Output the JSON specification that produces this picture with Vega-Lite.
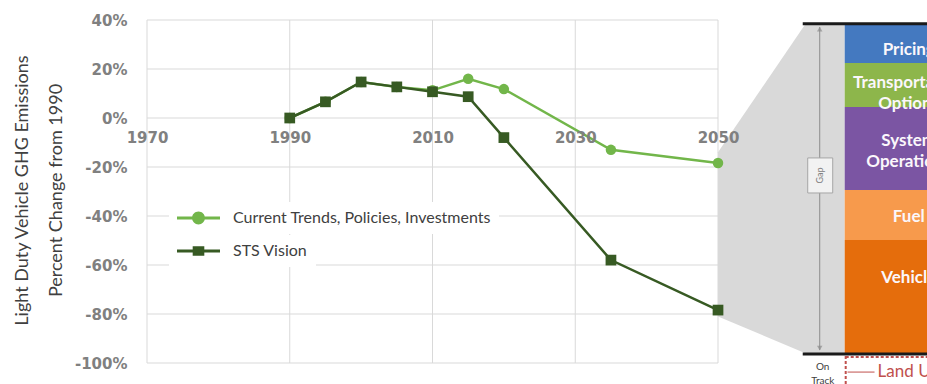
{
  "$schema": "https://vega.github.io/schema/vega-lite/v6.json",
  "width": 780,
  "height": 343,
  "autosize": {"type": "none"},
  "padding": {"left": 147, "top": 20, "right": 0, "bottom": 21},
  "background": "white",
  "config": {"view": {"stroke": null}, "font": "Lato"},
  "resolve": {"scale": {"color": "independent"}, "legend": {"color": "independent"}},
  "datasets": {
    "series": [
      {"series": "Current Trends, Policies, Investments", "year": 1990, "value": 0},
      {"series": "Current Trends, Policies, Investments", "year": 1995, "value": 6.6},
      {"series": "Current Trends, Policies, Investments", "year": 2000, "value": 14.7},
      {"series": "Current Trends, Policies, Investments", "year": 2005, "value": 12.7},
      {"series": "Current Trends, Policies, Investments", "year": 2010, "value": 11.3},
      {"series": "Current Trends, Policies, Investments", "year": 2015, "value": 16},
      {"series": "Current Trends, Policies, Investments", "year": 2020, "value": 11.8},
      {"series": "Current Trends, Policies, Investments", "year": 2035, "value": -13},
      {"series": "Current Trends, Policies, Investments", "year": 2050, "value": -18.4},
      {"series": "STS Vision", "year": 1990, "value": 0},
      {"series": "STS Vision", "year": 1995, "value": 6.6},
      {"series": "STS Vision", "year": 2000, "value": 14.7},
      {"series": "STS Vision", "year": 2005, "value": 12.7},
      {"series": "STS Vision", "year": 2010, "value": 10.7},
      {"series": "STS Vision", "year": 2015, "value": 8.7},
      {"series": "STS Vision", "year": 2020, "value": -8},
      {"series": "STS Vision", "year": 2035, "value": -58},
      {"series": "STS Vision", "year": 2050, "value": -78.4}
    ],
    "grid": [{"v": 40}, {"v": 20}, {"v": 0}, {"v": -20}, {"v": -40}, {"v": -60}, {"v": -80}, {"v": -100}],
    "vgrid": [{"yr": 1970}, {"yr": 1990}, {"yr": 2010}, {"yr": 2030}, {"yr": 2050}],
    "funnel": [
      {"x": 2050, "top": -14, "bottom": -81},
      {"x": 2062.15, "top": 38, "bottom": -95.9},
      {"x": 2067.75, "top": 38, "bottom": -95.9}
    ],
    "segments": [
      {"part": "Pricing", "x": 2067.75, "x2": 2079.28, "y": 37.96, "y2": 22.4},
      {"part": "Transportation Options", "x": 2067.75, "x2": 2079.28, "y": 22.4, "y2": 4.5},
      {"part": "System Operations", "x": 2067.75, "x2": 2079.28, "y": 4.5, "y2": -29.4},
      {"part": "Fuel", "x": 2067.75, "x2": 2079.28, "y": -29.4, "y2": -49.8},
      {"part": "Vehicle", "x": 2067.75, "x2": 2079.28, "y": -49.8, "y2": -95.9}
    ],
    "seglabels": [
      {"label": "Pricing", "x": 2076.72, "y": 27.8},
      {"label": "Transportation\nOptions", "x": 2076.72, "y": 14.1},
      {"label": "System\nOperations", "x": 2076.72, "y": -9.4},
      {"label": "Fuel", "x": 2076.72, "y": -40.4},
      {"label": "Vehicle", "x": 2076.72, "y": -65.3}
    ],
    "blacklines": [
      {"x": 2061.87, "x2": 2079.28, "y": 38.5, "y2": 38.5},
      {"x": 2061.87, "x2": 2079.28, "y": -96.3, "y2": -96.3}
    ],
    "gapline": [{"x": 2064.25, "x2": 2064.25, "y": 37.1, "y2": -94.7}],
    "arrows": [
      {"x": 2064.25, "y": 36.3, "dir": "up"},
      {"x": 2064.25, "y": -93.9, "dir": "down"}
    ],
    "gapbox": [{"x": 2062.57, "x2": 2066.07, "y": -16.3, "y2": -30.6, "label": "Gap", "xm": 2064.32, "ym": -23.5}],
    "ontrack": [
      {"label": "On", "x": 2064.67, "y": -101.6},
      {"label": "Track", "x": 2064.67, "y": -107.3}
    ],
    "reddash": [
      {"x": 2067.89, "x2": 2067.89, "y": -97.1, "y2": -109},
      {"x": 2067.89, "x2": 2079.28, "y": -97.6, "y2": -97.6}
    ],
    "redline": [{"x": 2068.15, "x2": 2071.93, "y": -103.7, "y2": -103.7}],
    "redtext": [{"label": "Land Use", "x": 2072.36, "y": -103.7}]
  },
  "layer": [
    {
      "data": {"name": "grid"},
      "mark": {"type": "rule", "color": "#d9d9d9", "strokeWidth": 1},
      "encoding": {
        "x": {"datum": 1970, "type": "quantitative", "scale": {"domain": [1970, 2079.28], "nice": false, "zero": false}},
        "x2": {"datum": 2050},
        "y": {
          "field": "v", "type": "quantitative",
          "scale": {"domain": [-100, 40], "nice": false, "zero": false},
          "axis": {
            "values": [-100, -80, -60, -40, -20, 0, 20, 40],
            "labelExpr": "datum.value + '%'",
            "grid": false, "ticks": false, "domain": false,
            "labelFont": "DejaVu Sans", "labelFontWeight": "bold", "labelFontSize": 15,
            "labelColor": "#808080", "labelPadding": 20,
            "title": ["Light Duty Vehicle GHG Emissions", "Percent Change from 1990"],
            "titleFont": "Lato", "titleFontSize": 18, "titleFontWeight": "normal", "titleColor": "#404040",
            "titleAngle": 270, "titleAlign": "center", "titleBaseline": "middle",
            "titleLineHeight": 34, "titleX": -124.5, "titleY": 170
          }
        }
      }
    },
    {
      "data": {"name": "vgrid"},
      "mark": {"type": "rule", "color": "#d9d9d9", "strokeWidth": 1},
      "encoding": {
        "x": {"field": "yr", "type": "quantitative"},
        "y": {"datum": -100, "type": "quantitative"},
        "y2": {"datum": 40}
      }
    },
    {
      "data": {"name": "funnel"},
      "mark": {"type": "area", "color": "#d9d9d9", "opacity": 1},
      "encoding": {
        "x": {"field": "x", "type": "quantitative"},
        "y": {"field": "top", "type": "quantitative"},
        "y2": {"field": "bottom"}
      }
    },
    {
      "data": {"name": "segments"},
      "mark": {"type": "rect"},
      "encoding": {
        "x": {"field": "x", "type": "quantitative"},
        "x2": {"field": "x2"},
        "y": {"field": "y", "type": "quantitative"},
        "y2": {"field": "y2"},
        "fill": {
          "field": "part", "type": "nominal", "legend": null,
          "scale": {
            "domain": ["Pricing", "Transportation Options", "System Operations", "Fuel", "Vehicle"],
            "range": ["#4479c0", "#8db64b", "#7b55a3", "#f79a4c", "#e56d0c"]
          }
        }
      }
    },
    {
      "data": {"name": "seglabels"},
      "mark": {"type": "text", "color": "#fbf7fb", "fontSize": 17, "fontWeight": "bold", "font": "Lato", "lineBreak": "\n", "lineHeight": 21, "align": "center", "baseline": "middle"},
      "encoding": {
        "x": {"field": "x", "type": "quantitative"},
        "y": {"field": "y", "type": "quantitative"},
        "text": {"field": "label"}
      }
    },
    {
      "data": {"name": "gapline"},
      "mark": {"type": "rule", "color": "#8c8c8c", "strokeWidth": 1},
      "encoding": {
        "x": {"field": "x", "type": "quantitative"},
        "x2": {"field": "x2"},
        "y": {"field": "y", "type": "quantitative"},
        "y2": {"field": "y2"}
      }
    },
    {
      "data": {"name": "arrows"},
      "mark": {"type": "point", "filled": true, "color": "#8c8c8c", "size": 30},
      "encoding": {
        "x": {"field": "x", "type": "quantitative"},
        "y": {"field": "y", "type": "quantitative"},
        "shape": {"field": "dir", "type": "nominal", "legend": null, "scale": {"domain": ["up", "down"], "range": ["triangle-up", "triangle-down"]}}
      }
    },
    {
      "data": {"name": "gapbox"},
      "mark": {"type": "rect", "fill": "#f2f2f2", "stroke": "#a6a6a6", "strokeWidth": 1},
      "encoding": {
        "x": {"field": "x", "type": "quantitative"},
        "x2": {"field": "x2"},
        "y": {"field": "y", "type": "quantitative"},
        "y2": {"field": "y2"}
      }
    },
    {
      "data": {"name": "gapbox"},
      "mark": {"type": "text", "angle": 270, "fontSize": 9, "color": "#808080", "font": "Lato", "align": "center", "baseline": "middle"},
      "encoding": {
        "x": {"field": "xm", "type": "quantitative"},
        "y": {"field": "ym", "type": "quantitative"},
        "text": {"field": "label"}
      }
    },
    {
      "data": {"name": "blacklines"},
      "mark": {"type": "rule", "color": "#1a1a1a", "strokeWidth": 3},
      "encoding": {
        "x": {"field": "x", "type": "quantitative"},
        "x2": {"field": "x2"},
        "y": {"field": "y", "type": "quantitative"},
        "y2": {"field": "y2"}
      }
    },
    {
      "data": {"name": "ontrack"},
      "mark": {"type": "text", "fontSize": 10, "color": "#404040", "font": "Lato", "align": "center", "baseline": "middle"},
      "encoding": {
        "x": {"field": "x", "type": "quantitative"},
        "y": {"field": "y", "type": "quantitative"},
        "text": {"field": "label"}
      }
    },
    {
      "data": {"name": "reddash"},
      "mark": {"type": "rule", "color": "#c0504d", "strokeWidth": 2, "strokeDash": [3, 2]},
      "encoding": {
        "x": {"field": "x", "type": "quantitative"},
        "x2": {"field": "x2"},
        "y": {"field": "y", "type": "quantitative"},
        "y2": {"field": "y2"}
      }
    },
    {
      "data": {"name": "redline"},
      "mark": {"type": "rule", "color": "#c0504d", "strokeWidth": 1},
      "encoding": {
        "x": {"field": "x", "type": "quantitative"},
        "x2": {"field": "x2"},
        "y": {"field": "y", "type": "quantitative"},
        "y2": {"field": "y2"}
      }
    },
    {
      "data": {"name": "redtext"},
      "mark": {"type": "text", "fontSize": 17, "color": "#c0504d", "font": "Lato", "align": "left", "baseline": "middle"},
      "encoding": {
        "x": {"field": "x", "type": "quantitative"},
        "y": {"field": "y", "type": "quantitative"},
        "text": {"field": "label"}
      }
    },
    {
      "data": {"name": "series"},
      "transform": [{"filter": "datum.series === 'Current Trends, Policies, Investments'"}],
      "mark": {"type": "line", "strokeWidth": 2.5, "point": {"filled": true, "shape": "circle", "size": 110}},
      "encoding": {
        "x": {
          "field": "year", "type": "quantitative",
          "axis": {
            "values": [1970, 1990, 2010, 2030, 2050], "format": "d",
            "grid": false, "zindex": 1,
            "ticks": false, "domain": false, "offset": -246,
            "labelFont": "DejaVu Sans", "labelFontWeight": "bold", "labelFontSize": 15,
            "labelColor": "#808080", "labelPadding": 13,
            "labelFlush": false, "labelOverlap": false, "labelBound": false,
            "title": null
          }
        },
        "y": {"field": "value", "type": "quantitative"},
        "color": {
          "field": "series", "type": "nominal",
          "scale": {"domain": ["Current Trends, Policies, Investments"], "range": ["#72b64a"]},
          "legend": {
            "orient": "none", "legendX": 22, "legendY": 182, "title": null,
            "padding": 8, "fillColor": "white",
            "symbolSize": 1849, "clipHeight": 16,
            "symbolType": "M-1,-0.065H-0.28V0.065H-1Z M0.28,-0.065H1V0.065H0.28Z M-0.3,0A0.3,0.3 0 1,1 0.3,0A0.3,0.3 0 1,1 -0.3,0Z",
            "symbolStrokeWidth": 0, "symbolFillColor": "#72b64a",
            "labelFont": "Lato", "labelFontSize": 16, "labelColor": "#404040", "labelOffset": 13, "labelLimit": 0
          }
        }
      }
    },
    {
      "data": {"name": "series"},
      "transform": [{"filter": "datum.series === 'STS Vision'"}],
      "mark": {"type": "line", "strokeWidth": 2.5, "point": {"filled": true, "shape": "square", "size": 115}},
      "encoding": {
        "x": {"field": "year", "type": "quantitative"},
        "y": {"field": "value", "type": "quantitative"},
        "color": {
          "field": "series", "type": "nominal",
          "scale": {"domain": ["STS Vision"], "range": ["#375a23"]},
          "legend": {
            "orient": "none", "legendX": 22, "legendY": 215, "title": null,
            "padding": 8, "fillColor": "white",
            "symbolSize": 1849, "clipHeight": 16,
            "symbolType": "M-1,-0.065H-0.27V0.065H-1Z M0.27,-0.065H1V0.065H0.27Z M-0.27,-0.22H0.27V0.22H-0.27Z",
            "symbolStrokeWidth": 0, "symbolFillColor": "#375a23",
            "labelFont": "Lato", "labelFontSize": 16, "labelColor": "#404040", "labelOffset": 13, "labelLimit": 0
          }
        }
      }
    }
  ]
}
